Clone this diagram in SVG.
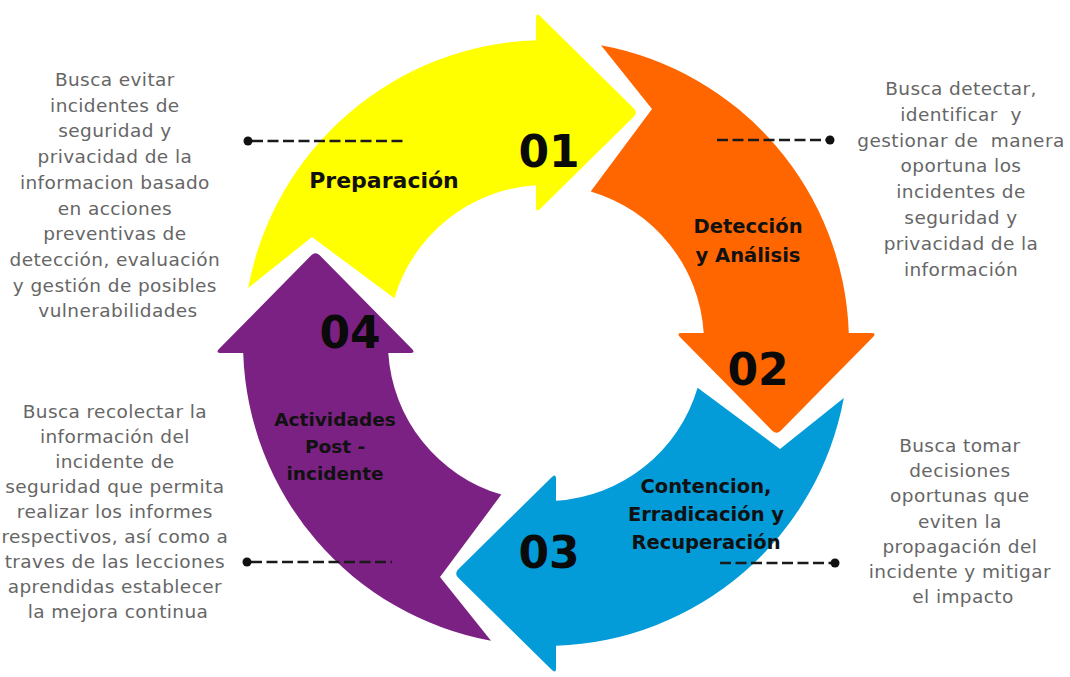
<svg xmlns="http://www.w3.org/2000/svg" xmlns:xlink="http://www.w3.org/1999/xlink" width="1070" height="677" viewBox="0 0 1070 677">
  <style>
    .num { font-family: "DejaVu Sans", "Liberation Sans", sans-serif; font-weight: bold; font-size: 44px; fill: #0a0a0a; text-anchor: middle; }
    .lbl { font-family: "DejaVu Sans", "Liberation Sans", sans-serif; font-weight: bold; font-size: 19.5px; fill: #111; text-anchor: middle; }
    .desc { font-family: "DejaVu Sans", "Liberation Sans", sans-serif; font-size: 18.5px; letter-spacing: 0.4px; fill: #666; text-anchor: middle; }
    .dash { stroke: #1a1a1a; stroke-width: 2.5; stroke-dasharray: 11 4.5; fill: none; }
    .dot { fill: #111; }
  </style>
  <defs>
    <path id="arrow" d="M 248.2 288 A 303 303 0 0 1 536 40.2 L 536 18 Q 536 12 540.3 16.2 L 633.7 108.3 Q 638 112.5 633.7 116.7 L 540.3 208.8 Q 536 213 536 207 L 536 185.3 A 158 158 0 0 0 394.4 298.3 L 312 237 Z"/>
  </defs>
  <rect width="1070" height="677" fill="#ffffff"/>

  <g id="node-preparacion">
    <use xlink:href="#arrow" fill="#ffff00"/>
    <text class="num" x="549" y="167">01</text>
    <text class="lbl" x="384" y="188" style="font-size:22px">Preparación</text>
  </g>

  <g id="node-deteccion">
    <use xlink:href="#arrow" fill="#ff6600" transform="rotate(90 546 343)"/>
    <text class="num" x="758" y="385">02</text>
    <text class="lbl" x="748" y="233">Detección</text>
    <text class="lbl" x="748" y="262">y Análisis</text>
  </g>

  <g id="node-contencion">
    <use xlink:href="#arrow" fill="#049bd9" transform="rotate(180 546 343)"/>
    <text class="num" x="549" y="568">03</text>
    <text class="lbl" x="706" y="493">Contencion,</text>
    <text class="lbl" x="706" y="521">Erradicación y</text>
    <text class="lbl" x="706" y="549">Recuperación</text>
  </g>

  <g id="node-post">
    <use xlink:href="#arrow" fill="#7b2183" transform="rotate(270 546 343)"/>
    <text class="num" x="350" y="348">04</text>
    <text class="lbl" x="335" y="426" style="font-size:18.5px">Actividades</text>
    <text class="lbl" x="335" y="453" style="font-size:18.5px">Post -</text>
    <text class="lbl" x="335" y="480" style="font-size:18.5px">incidente</text>
  </g>

  <g id="desc-preparacion">
    <text class="desc">
      <tspan x="118" y="86">Busca evitar</tspan>
      <tspan x="118" dy="25.7">incidentes de</tspan>
      <tspan x="118" dy="25.7">seguridad y</tspan>
      <tspan x="118" dy="25.7">privacidad de la</tspan>
      <tspan x="118" dy="25.7">informacion basado</tspan>
      <tspan x="118" dy="25.7">en acciones</tspan>
      <tspan x="118" dy="25.7">preventivas de</tspan>
      <tspan x="118" dy="25.7">detección, evaluación</tspan>
      <tspan x="118" dy="25.7">y gestión de posibles</tspan>
      <tspan x="118" dy="25.7">vulnerabilidades</tspan>
    </text>
  </g>

  <g id="desc-deteccion">
    <text class="desc" xml:space="preserve"><tspan x="961" y="95">Busca detectar,</tspan><tspan x="961" dy="25.8">identificar  y</tspan><tspan x="961" dy="25.8">gestionar de  manera</tspan><tspan x="961" dy="25.8">oportuna los</tspan><tspan x="961" dy="25.8">incidentes de</tspan><tspan x="961" dy="25.8">seguridad y</tspan><tspan x="961" dy="25.8">privacidad de la</tspan><tspan x="961" dy="25.8">información</tspan></text>
  </g>

  <g id="desc-contencion">
    <text class="desc">
      <tspan x="963" y="452">Busca tomar</tspan>
      <tspan x="963" dy="25.2">decisiones</tspan>
      <tspan x="963" dy="25.2">oportunas que</tspan>
      <tspan x="963" dy="25.2">eviten la</tspan>
      <tspan x="963" dy="25.2">propagación del</tspan>
      <tspan x="963" dy="25.2">incidente y mitigar</tspan>
      <tspan x="963" dy="25.2">el impacto</tspan>
    </text>
  </g>

  <g id="desc-post">
    <text class="desc">
      <tspan x="118" y="418">Busca recolectar la</tspan>
      <tspan x="118" dy="25">información del</tspan>
      <tspan x="118" dy="25">incidente de</tspan>
      <tspan x="118" dy="25">seguridad que permita</tspan>
      <tspan x="118" dy="25">realizar los informes</tspan>
      <tspan x="118" dy="25">respectivos, así como a</tspan>
      <tspan x="118" dy="25">traves de las lecciones</tspan>
      <tspan x="118" dy="25">aprendidas establecer</tspan>
      <tspan x="118" dy="25">la mejora continua</tspan>
    </text>
  </g>

  <g id="connectors">
    <path class="dash" d="M 252 141 H 403"/>
    <circle class="dot" cx="248" cy="141" r="4.5"/>
    <path class="dash" d="M 717 140 H 826"/>
    <circle class="dot" cx="830" cy="140" r="4.5"/>
    <path class="dash" d="M 720 563 H 831"/>
    <circle class="dot" cx="835" cy="563" r="4.5"/>
    <path class="dash" d="M 251 562 H 392"/>
    <circle class="dot" cx="247" cy="562" r="4.5"/>
  </g>
</svg>
